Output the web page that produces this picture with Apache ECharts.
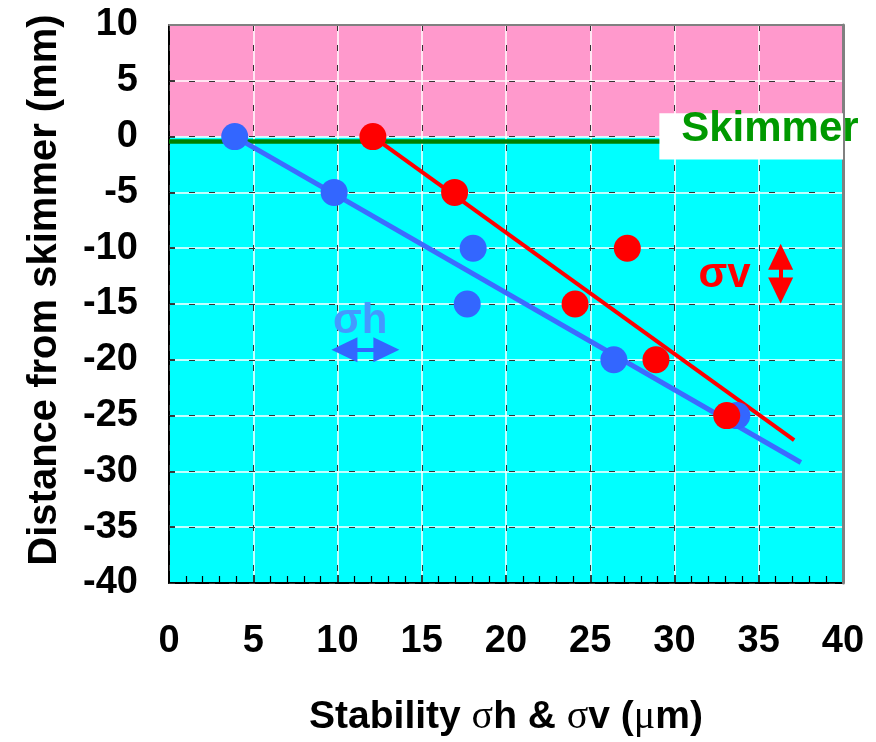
<!DOCTYPE html>
<html>
<head>
<meta charset="utf-8">
<script src="https://cdn.jsdelivr.net/npm/echarts@6/dist/echarts.min.js"></script>
<style>html,body{margin:0;padding:0;background:#fff;}#c{width:876px;height:742px;}</style>
</head>
<body>
<div id="c"></div>
<script>
// ---- data ----
const distance = [0, -5, -10, -15, -20, -25];          // mm from skimmer
const sigmaH = [3.9, 9.8, 18.05, 17.7, 26.4, 33.7];     // µm
const sigmaV = [12.1, 16.95, 27.2, 24.1, 28.9, 33.1];   // µm
const fitH = [[3.9, 0], [37.5, -29.2]];
const fitV = [[12.1, 0], [37.1, -27.2]];
const xTicks = [0, 5, 10, 15, 20, 25, 30, 35, 40];
const yTicks = [10, 5, 0, -5, -10, -15, -20, -25, -30, -35, -40];
const skimmerLevel = -0.4;
const skimmerLineEnd = 29.1;

const F = 'Liberation Sans, Arial, sans-serif';
const chart = echarts.init(document.getElementById('c'));

const ptsH = sigmaH.map((x, i) => [x, distance[i]]);
const ptsV = sigmaV.map((x, i) => [x, distance[i]]);

const xMin = xTicks[0], xMax = xTicks[xTicks.length - 1];
const yMin = yTicks[yTicks.length - 1], yMax = yTicks[0];

const labelStyle = {fontFamily: F, fontWeight: 'bold', fontSize: 38, color: '#000'};

chart.setOption({
  animation: false,
  backgroundColor: '#fff',
  grid: {left: 169, right: 33, top: 25, bottom: 157},
  xAxis: [{
    type: 'value', min: xMin, max: xMax, interval: 5, position: 'bottom', z: 2,
    axisLine: {show: true, onZero: false, lineStyle: {color: '#000', width: 2}},
    axisTick: {show: true, inside: true, length: 8, lineStyle: {color: '#000', width: 1.5}},
    minorTick: {show: true, splitNumber: 5, length: 7, lineStyle: {color: '#000', width: 1.2}},
    axisLabel: Object.assign({margin: 40}, labelStyle),
    splitLine: {show: true, lineStyle: {color: '#ffffff', width: 1.5}},
    name: '{b|Stability }{s|σ}{b|h & }{s|σ}{b|v (}{s|μ}{b|m)}',
    nameLocation: 'middle', nameGap: 114,
    nameTextStyle: {rich: {
      b: {fontFamily: F, fontWeight: 'bold', fontSize: 39, color: '#000'},
      s: {fontFamily: 'Liberation Serif, serif', fontWeight: 'normal', fontSize: 40, color: '#000'}
    }}
  }, {
    type: 'value', min: xMin, max: xMax, interval: 5, position: 'top', z: 3,
    axisLine: {show: true, onZero: false, lineStyle: {color: '#808080', width: 2}},
    axisTick: {show: false}, axisLabel: {show: false},
    splitLine: {show: true, lineStyle: {color: '#333', width: 1, type: [6, 14]}}
  }],
  yAxis: [{
    type: 'value', min: yMin, max: yMax, interval: 5, position: 'left', z: 2,
    axisLine: {show: true, onZero: false, lineStyle: {color: '#000', width: 2}},
    axisTick: {show: true, inside: true, length: 6, lineStyle: {color: '#000', width: 1.5}},
    axisLabel: Object.assign({margin: 31}, labelStyle),
    splitLine: {show: true, lineStyle: {color: '#ffffff', width: 1.5}},
    name: 'Distance from skimmer (mm)', nameLocation: 'middle', nameGap: 104, nameRotate: 90,
    nameTextStyle: {fontFamily: F, fontWeight: 'bold', fontSize: 40, color: '#000', padding: [0, 0, 0, 28]}
  }, {
    type: 'value', min: yMin, max: yMax, interval: 5, position: 'right', z: 3,
    axisLine: {show: true, onZero: false, lineStyle: {color: '#808080', width: 3}},
    axisTick: {show: false}, axisLabel: {show: false},
    splitLine: {show: true, lineStyle: {color: '#333', width: 1, type: [6, 14]}}
  }],
  series: [
    { // backgrounds
      type: 'line', data: [[xMin, yMin]], symbol: 'none', lineStyle: {opacity: 0}, silent: true, z: 1,
      markArea: {silent: true, z: 1, data: [
        [{coord: [xMin, 0], itemStyle: {color: '#ff99cc', opacity: 1}}, {coord: [xMax, yMax]}],
        [{coord: [xMin, yMin], itemStyle: {color: '#00ffff', opacity: 1}}, {coord: [xMax, 0]}]
      ]}
    },
    { // skimmer label box and line
      type: 'line', data: [[xMin, yMin]], symbol: 'none', lineStyle: {opacity: 0}, silent: true, z: 4,
      markArea: {silent: true, z: 4, data: [
        [{coord: [skimmerLineEnd, 2.1], itemStyle: {color: '#ffffff', opacity: 1}}, {coord: [xMax, -2.05]}]
      ]},
      markLine: {silent: true, z: 5, symbol: 'none', label: {show: false},
        lineStyle: {color: '#008000', width: 4.5, type: 'solid', opacity: 1},
        data: [[{coord: [xMin, skimmerLevel]}, {coord: [skimmerLineEnd, skimmerLevel]}]]
      }
    },
    {type: 'line', data: fitH, symbol: 'none', z: 6, lineStyle: {color: '#3d6bff', width: 5}},
    {type: 'line', data: fitV, symbol: 'none', z: 6, lineStyle: {color: '#ff0000', width: 4}},
    {type: 'scatter', data: ptsH, symbolSize: 27, z: 7, itemStyle: {color: '#3366ff', opacity: 1}},
    {type: 'scatter', data: ptsV, symbolSize: 27, z: 8, itemStyle: {color: '#ff0000', opacity: 1}},
    { // annotations
      type: 'scatter', z: 9, symbolSize: 1, itemStyle: {color: 'rgba(0,0,0,0)', opacity: 1}, silent: true,
      data: [
        {value: [30.37, 0.66], label: {show: true, position: 'right', distance: 0, formatter: 'Skimmer',
          fontFamily: F, fontWeight: 'bold', fontSize: 42, color: '#009900', opacity: 1}},
        {value: [31.4, -12.4], label: {show: true, position: 'right', distance: 0, formatter: 'σv',
          fontFamily: F, fontWeight: 'bold', fontSize: 42, color: '#ff0000', opacity: 1}},
        {value: [9.7, -16.6], label: {show: true, position: 'right', distance: 0, formatter: 'σh',
          fontFamily: F, fontWeight: 'bold', fontSize: 42, color: '#4499ff', opacity: 1}}
      ],
      markLine: {silent: true, z: 9, label: {show: false}, symbol: ['triangle', 'triangle'], symbolSize: [25, 26],
        data: [
          [{coord: [36.3, -10.77], lineStyle: {color: '#ff0000', width: 4, type: 'solid', opacity: 1}, itemStyle: {color: '#ff0000'}},
           {coord: [36.3, -13.78]}],
          [{coord: [10.41, -19.1], lineStyle: {color: '#3366ff', width: 4, type: 'solid', opacity: 1}, itemStyle: {color: '#3366ff'}},
           {coord: [12.9, -19.1]}]
        ]
      }
    }
  ]
});
</script>
</body>
</html>
